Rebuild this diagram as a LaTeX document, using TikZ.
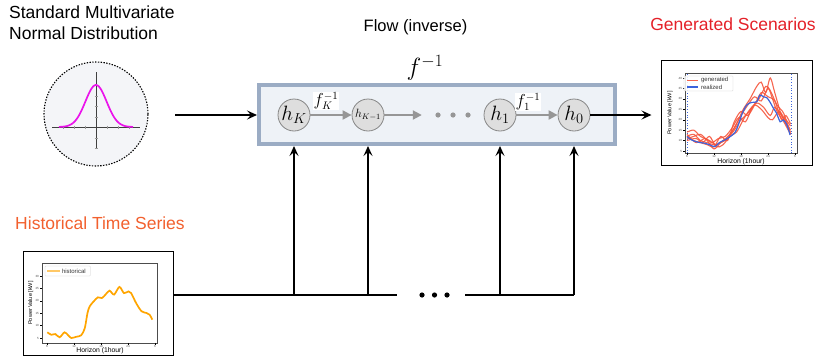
\documentclass[tikz,border=0pt]{standalone}
\usepackage{fontspec}
\setmainfont{Liberation Sans}
\usetikzlibrary{arrows.meta}
\definecolor{boxborder}{RGB}{155,172,196}
\definecolor{boxfill}{RGB}{238,242,247}
\definecolor{nodefill}{RGB}{222,222,222}
\definecolor{nodegray}{RGB}{135,135,135}
\definecolor{arrgray}{RGB}{150,150,150}
\definecolor{gaussfill}{RGB}{244,245,248}
\definecolor{genred}{RGB}{228,32,40}
\definecolor{historange}{RGB}{242,96,46}
\definecolor{redc}{RGB}{245,85,60}
\definecolor{bluec}{RGB}{60,100,220}
\definecolor{orangec}{RGB}{255,165,0}
\definecolor{magentac}{RGB}{235,20,235}
\begin{document}
\begin{tikzpicture}[x=1pt,y=-1pt,
  lbl/.style={font=\fontsize{17.5}{21}\selectfont, inner sep=0},
  hnode/.style={circle, draw=nodegray, fill=nodefill, line width=0.8pt, minimum size=32pt, inner sep=0},
  grayarrow/.style={draw=arrgray, line width=2pt, -{Triangle[length=9pt,width=9pt]}},
  blackarrow/.style={line width=1.3pt, -{Stealth[length=10pt,width=9pt,inset=4pt]}},
  busline/.style={line width=1.3pt},
  frame/.style={draw, line width=1pt, inner sep=0},
  ticklab/.style={font=\fontsize{3}{3}\selectfont, inner sep=0.3pt, text=black!70},
  axlab/.style={font=\fontsize{6.8}{7}\selectfont, inner sep=0},
  ylab/.style={font=\fontsize{5.5}{6}\selectfont, inner sep=0, rotate=90},
  leg/.style={font=\fontsize{6}{6}\selectfont, inner sep=0, anchor=west, text=black!80},
  redline/.style={draw=redc, line width=1.1pt, opacity=0.9},
  blueline/.style={draw=bluec, line width=1.2pt},
]
\useasboundingbox (0,0) rectangle (818,359);

% ---------- titles ----------
\node[lbl, anchor=west, align=left] (tstd) at (9,23) {Standard Multivariate\\Normal Distribution};
\node[lbl, font=\fontsize{16.5}{20}\selectfont] (tflow) at (415.5,27) {Flow (inverse)};
\node[lbl, text=genred] (tgen) at (733,24) {Generated Scenarios};
\node[lbl, text=historange] (thist) at (100,223) {Historical Time Series};

% ---------- gaussian ----------
\node[circle, draw, dash pattern=on 1.4pt off 1.4pt, line width=1.1pt, fill=gaussfill, minimum size=104pt, inner sep=0] (gauss) at (96,114) {};
\draw[line width=0.8pt, black!75] (52,127) -- (140,127);
\draw[line width=0.8pt, black!75] (96,72) -- (96,148);
\foreach \t in {-33,-22,-11,11,22,33} \draw[line width=0.3pt, black!40] (96+\t,125.5) -- (96+\t,128.5);
\foreach \t in {85,96,106,117,138,148} \draw[line width=0.3pt, black!40] (94.5,\t) -- (97.5,\t);
\draw[magentac, line width=1.7pt] plot[domain=-37:37, samples=70, smooth] ({96+\x},{127-42*exp(-(\x*\x)/224.7)});

% ---------- flow box ----------
\node[draw=boxborder, fill=boxfill, line width=4pt, minimum width=356pt, minimum height=59pt, inner sep=0] (box) at (437,114.5) {};
\node[inner sep=0, font=\fontsize{24}{24}\selectfont] (finv) at (425,68) {$f^{-1}$};

\node[hnode] (hK) at (294,115) {\fontsize{20}{20}\selectfont $h_K$};
\node[hnode] (hK1) at (368,115) {\fontsize{12}{12}\selectfont $h_{K-1}$};
\node[hnode] (h1) at (500,115) {\fontsize{20}{20}\selectfont $h_1$};
\node[hnode] (h0) at (574,115) {\fontsize{20}{20}\selectfont $h_0$};
\node[inner sep=0, minimum width=34pt, minimum height=6pt] (dots) at (453,115) {};
\foreach \d in {-15,0,15} \fill[arrgray] ([xshift=\d pt]dots.center) circle (2.6);

\draw[grayarrow] (hK) -- (hK1);
\draw[grayarrow, shorten >=14pt] (hK1) -- (dots.west);
\draw[grayarrow] (h1) -- (h0);
\node[fill=white, inner sep=0.5pt, font=\fontsize{16}{16}\selectfont] (fK) at (326,101) {$f_K^{-1}$};
\node[fill=white, inner sep=0.5pt, font=\fontsize{16}{16}\selectfont] (f1) at (528,102) {$f_1^{-1}$};

% ---------- input / output arrows ----------
\coordinate (in) at (175,115);
\draw[blackarrow] (in) -- (in -| box.west);

% ---------- generated plot ----------
\node[frame, minimum width=151pt, minimum height=105pt] (gen) at (736.5,112.5) {};
\draw[blackarrow, shorten >=9pt] (h0) -- (h0 -| gen.west);

\begin{scope}[shift={(687,151)}]
\begin{scope}[x=4.5pt,y=2.086pt]
  \draw[line width=0.4pt, black!70] (-0.44,-0.96) rectangle (24.4,37.4);
  \foreach \v in {5,10,...,40} {
    \draw[line width=0.3pt] (-0.44,{\v-5}) -- ++(-0.5,0);
    \node[ticklab, anchor=east] at (-1.0,{\v-5}) {\v};
  }
  \foreach \h/\l in {0/6,6/12,12/18,18/24,24/6} {
    \draw[line width=0.3pt] (\h,-0.96) -- ++(0,-0.8);
    \node[ticklab, anchor=north] at (\h,-1.9) {\l};
  }
  \draw[bluec, line width=0.7pt, dotted] (0,-0.96) -- (0,37.4);
  \draw[bluec, line width=0.7pt, dotted] (23.1,-0.96) -- (23.1,37.4);
  \draw[redline] plot[smooth] coordinates {(0,9) (1.5,10) (3,7) (5,5) (6.5,3) (8,5) (9.5,8) (11,13) (12.5,20) (14,25) (15.5,31) (16.5,33) (17.5,28) (18.5,35) (19.5,28) (21,17) (22,15) (23,12)};
  \draw[redline] plot[smooth] coordinates {(0,6) (1.5,7) (3,8) (4.5,5) (6,1) (7.5,4) (9,6) (10.5,11) (12,17) (13.5,22) (15,26) (16.5,24) (18,30) (19,25) (20,19) (21.5,14) (23,8)};
  \draw[redline] plot[smooth] coordinates {(0,5) (2,6) (3.5,4) (5,7) (6.5,2) (8,3) (9.5,7) (11,9) (12.5,15) (14,20) (15.5,23) (17,21) (18.5,17) (19.5,21) (21,17) (22,13) (23,9)};
  \draw[redline] plot[smooth] coordinates {(0,7) (1.5,5) (3,4) (4.5,3) (6,2) (7.5,7) (9,5) (10.5,14) (12,19) (13.5,17) (15,22) (16.5,28) (18,26) (19.5,24) (21,15) (22,17) (23,13)};
  \draw[redline] plot[smooth] coordinates {(0,8) (2,4) (4,6) (5.5,4) (7,6) (8.5,7) (10,11) (11.5,16) (13,14) (14.5,21) (16,25) (17.5,31) (18.5,29) (20,22) (21.5,18) (23,8)};
  \draw[redline] plot[smooth] coordinates {(0,7) (1.5,8) (3,5) (4.5,4) (6,3) (7.5,4) (9,6) (10.5,10) (12,15) (13.5,18) (15,22) (16.5,20) (18,16) (19,15) (20.5,19) (22,14) (23,10)};
  \draw[blueline] plot[smooth] coordinates {(0,6.9) (1.0,5.3) (2.5,4.2) (4.0,3.7) (5.1,2.9) (6.2,2.1) (7.3,4.2) (8.4,5.3) (9.6,6.9) (10.7,9.0) (11.4,12.5) (12.3,18.1) (13.3,22.1) (14.4,23.3) (15.5,23.6) (16.2,26.8) (17.0,26.0) (17.7,25.6) (18.4,23.6) (19.2,20.5) (19.9,18.1) (20.7,14.0) (21.4,14.9) (22.2,12.5) (22.9,7.7)};
  \draw[fill=white, fill opacity=0.85, draw=black!20, line width=0.3pt, rounded corners=0.5pt] (-0.67,28.8) rectangle (10.2,36);
  \draw[redline] (0,34) -- (2.4,34);
  \node[leg] at (3.1,34) {generated};
  \draw[blueline] (0,30.7) -- (2.4,30.7);
  \node[leg] at (3.1,30.7) {realized};
  \node[ylab] at (-3.8,18.2) {Power Value [kW]};
  \node[axlab] at (12,-5.2) {Horizon (1hour)};
\end{scope}
\end{scope}

% ---------- historical plot ----------
\node[frame, minimum width=150pt, minimum height=104pt] (hist) at (98,303) {};
\begin{scope}[shift={(47,338)}]
\begin{scope}[x=4.5pt,y=2.48pt]
  \draw[line width=0.4pt, black!70] (-1.1,-2) rectangle (24.4,30.2);
  \foreach \v in {5,10,...,30} {
    \draw[line width=0.3pt] (-1.1,{\v-5}) -- ++(-0.5,0);
    \node[ticklab, anchor=east] at (-1.7,{\v-5}) {\v};
  }
  \foreach \h/\l in {0/6,6/12,12/18,18/24,24/6} {
    \draw[line width=0.3pt] (\h,-2) -- ++(0,-0.7);
    \node[ticklab, anchor=north] at (\h,-2.9) {\l};
  }
  \draw[orangec, line width=1.7pt] plot[smooth] coordinates {(0.07,2.3) (0.96,1.3) (1.85,1.6) (2.8,0.3) (3.9,2.3) (4.7,1.1) (5.4,0) (6.5,0.5) (7.6,1.1) (8.4,4.0) (9.0,10.1) (9.5,12.8) (10.4,14.8) (11.3,16.4) (12.2,16.1) (13.0,17.5) (13.9,19.1) (14.9,17.5) (16.1,20.6) (17.1,18.1) (18.1,18.8) (18.7,18.1) (19.8,14.1) (21.0,10.8) (22.1,10.1) (22.8,9.4) (23.4,7.4)};
  \draw[fill=white, fill opacity=0.85, draw=black!20, line width=0.3pt, rounded corners=0.5pt] (-0.44,25) rectangle (9.6,29);
  \draw[orangec, line width=1.2pt, opacity=0.6] (0,27) -- (2.9,27);
  \node[leg] at (3.3,27) {historical};
  \node[ylab] at (-3.6,14.1) {Power Value [kW]};
  \node[axlab] at (11.8,-5.2) {Horizon (1hour)};
\end{scope}
\end{scope}

% ---------- bus and conditioning arrows ----------
\coordinate (busy) at (0,295);
\coordinate (j1) at (hK |- busy);
\coordinate (j2) at (hK1 |- busy);
\coordinate (j3) at (h1 |- busy);
\coordinate (j4) at (h0 |- busy);
\coordinate (busL) at (397,295);
\coordinate (busR) at (465,295);
\draw[busline] (busy -| hist.east) -- (busL);
\draw[busline] (busR) -- (j4);
\foreach \j in {j1,j2,j3,j4} \draw[blackarrow] (\j) -- (\j |- box.south);
\node[inner sep=0, minimum width=30pt, minimum height=6pt] (bdots) at (434.5,295) {};
\foreach \d in {-12.5,0,12.5} \fill ([xshift=\d pt]bdots.center) circle (2.6);
\end{tikzpicture}
\end{document}
